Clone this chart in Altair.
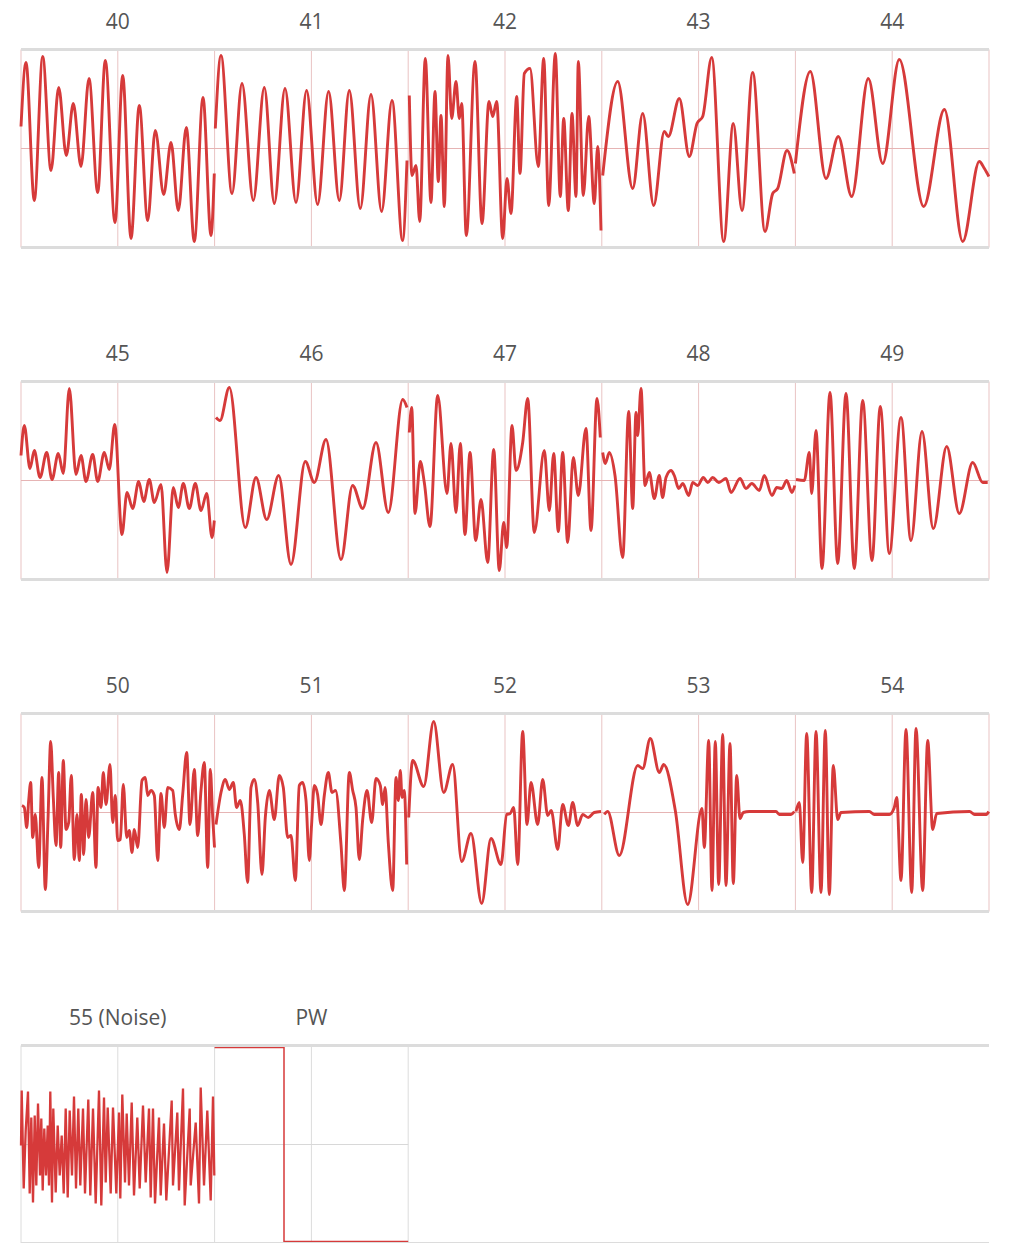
import altair as alt
import pandas as pd

# ---------------- data (panel-local x in px units 0..193.6, value -99..99) ----------------
TITLES = ["40", "41", "42", "43", "44", "45", "46", "47", "48", "49",
          "50", "51", "52", "53", "54", "55 (Noise)", "PW"]

W40 = [(0, 22), (5, 86), (13.3, -52), (21.7, 92), (30, -22), (37.7, 61), (45.3, -7), (52.3, 45),
       (60, -18), (68, 70), (76.7, -44), (84.3, 88), (94, -74), (101.7, 73), (110, -90), (118.3, 43),
       (126.7, -72), (134.3, 18), (142.7, -46), (150, 6), (157.3, -62), (165.3, 21), (173.3, -93),
       (182, 51), (190, -87), (193.3, -25)]
W41 = [(0.7, 20), (6.4, 93), (17.4, -45), (27.4, 65), (38.7, -52), (49.7, 61), (59.7, -55), (70.4, 60),
       (81.4, -54), (92, 58), (103, -56), (114, 57), (124.7, -52), (134.7, 58), (145.7, -60), (156.4, 54),
       (167, -63), (177.4, 48), (188, -92), (192.4, -12)]
W42 = [(1.1, 53), (3.8, -27), (7.8, -17), (11.5, -73), (17.1, 90), (22.8, -54), (26.8, 57), (30.1, -33),
       (32.8, 33), (36.1, -58), (39.8, 93), (43.5, 30), (47.8, 67), (51.1, 30), (53.5, 45), (58.1, -87),
       (66.8, 87), (73.8, -75), (80.8, 47), (84.5, 32), (88.5, 47), (94.5, -90), (98.8, -30), (102.8, -65),
       (108.5, 52), (111.8, -25), (116.1, 75), (121.8, 80), (130.1, -18), (135.5, 90), (140.5, -57),
       (147.1, 95), (152.1, -48), (155.5, 30), (160.1, -62), (163.8, 35), (167.8, -48), (170.1, 87),
       (175.1, -47), (180.5, 32), (186.1, -55), (189.5, 2), (192.8, -82)]
W43 = [(0.9, -27), (15.9, 67), (30.9, -40), (40.9, 35), (51.9, -57), (62.5, 17), (66.5, 12), (77.5, 50),
       (87.5, -8), (95.2, 25), (100.9, 32), (109.9, 91), (121.9, -93), (131.5, 25), (140.2, -62),
       (150.9, 76), (163.2, -83), (170.9, -45), (175.9, -40), (185.2, -2), (192.5, -25)]
W44 = [(0, -15), (14.9, 77), (30.6, -30), (42.9, 12), (56.3, -48), (72.9, 70), (87.3, -15), (103.9, 89),
       (128.3, -58), (149, 39), (167.3, -93), (183.9, -13), (189, -20), (193.5, -28)]
W45 = [(0, 25), (3.3, 55), (9, 12), (13.3, 30), (19, 3), (25.7, 28), (31, 1), (37.3, 27), (42.3, 7),
       (48.3, 92), (55, 6), (60, 25), (65, -1), (71.7, 26), (76.7, -1), (83.3, 28), (88.3, 11), (93.7, 56),
       (101, -54), (106, -12), (111.7, -28), (117.7, -1), (122.7, -21), (128.3, 1), (133.3, -22), (140, -4),
       (146, -92), (152.3, -7), (157.3, -27), (162.3, -3), (168.3, -28), (174.3, -3), (180, -30),
       (185.7, -13), (191, -57), (193.3, -40)]
W46 = [(1.4, 63), (5.4, 60), (14.7, 93), (30.7, -47), (41.4, 3), (52.1, -39), (64.1, 5), (76.4, -84),
       (90.7, 19), (99.7, -2), (111.4, 41), (126.4, -79), (138, -5), (148.1, -28), (161.4, 38),
       (173.7, -32), (188.1, 81), (192.4, 73)]
W47 = [(1.1, 48), (3.5, 73), (6.8, -33), (12.1, 19), (16.1, -2), (21.8, -46), (29.5, 85), (38.8, -13),
       (42.8, 37), (47.8, -32), (52.1, 37), (56.8, -54), (61.8, 28), (67.5, -60), (72.8, -19), (79.5, -82),
       (85.5, 31), (91.1, -90), (95.5, -42), (98.5, -67), (103.8, 55), (107.8, 10), (114.5, 38),
       (119.5, 82), (126.1, -52), (136.1, 30), (141.1, -30), (145.5, 27), (150.1, -51), (154.5, 28),
       (159.5, -62), (165.1, 23), (170.1, -15), (177.8, 52), (182.8, -50), (188.8, 82), (192.1, 43)]
W48 = [(0.9, 28), (3.5, 17), (7.5, 28), (13.2, 5), (20.9, -77), (26.9, 69), (30.9, -28), (34.2, 68),
       (35.9, 45), (39.2, 92), (43.2, -5), (47.5, 8), (52.5, -18), (57.5, 5), (60.8, -17), (64.2, 3),
       (69.2, 10), (72.5, 5), (76.9, -8), (81, -3), (86.9, -15), (90.9, -2), (95.9, -5), (101.5, 3),
       (106, -2), (110.9, 3), (117, -2), (124.2, 2), (129.2, -12), (138.2, 2), (144.2, -8), (150, -3),
       (157.5, -10), (162.5, 5), (170.2, -15), (175, -7), (180, -8), (184.9, 0), (190.2, -12), (193, -5)]
W49 = [(0.6, 1), (8.9, 0), (13.9, 28), (16.3, -13), (20.6, 50), (26.6, -88), (34.6, 88), (42.3, -83),
       (50.6, 87), (58.9, -88), (67.3, 80), (76.6, -80), (84.9, 74), (93.9, -73), (105.6, 63),
       (115.6, -60), (126.6, 49), (137.9, -48), (151.3, 34), (163.9, -33), (177.3, 18), (187.3, -2),
       (192.3, -2)]
W50 = [(1, 7), (3.3, 5), (5.7, -15), (7.7, 12), (9.7, 30), (11.7, -25), (14.3, -2), (17.7, -55), (21, 35),
       (24.3, -77), (27, -7), (29.7, 71), (32.3, 15), (35, -33), (37.7, 40), (39.7, -35), (42.3, 52),
       (45, -17), (47.7, -10), (50.3, 37), (53.3, -47), (56, -2), (58.3, -48), (60.3, 18), (62.7, -42),
       (65, 13), (67.7, -25), (71.7, 20), (75, -55), (77, 25), (80, 5), (82.3, 40), (85, 8), (89, 48),
       (91.7, -10), (94.3, 17), (96.7, -28), (99.3, -27), (102.3, 28), (105.7, -25), (108.3, -18),
       (111, -40), (113.3, -17), (116.7, -35), (121, 32), (124.3, 35), (126.7, 17), (130, 22),
       (133.3, 17), (136.7, -48), (140, 19), (143.3, -15), (146.7, 25), (151.7, 22), (154.3, -2),
       (158.3, -17), (161.7, 18), (165.7, 60), (169, -12), (173.3, 43), (176.7, -23), (180, 22),
       (183.3, 50), (186.7, -55), (189.3, 43), (191.7, -5), (193.5, -35)]
W51 = [(1.4, -12), (6.4, 20), (10.7, 33), (14.7, 23), (18.7, 30), (22, 5), (25.7, 12), (29.7, -22),
       (33, -70), (36.4, 25), (39.7, 33), (43.1, 10), (47.4, -62), (50.7, -5), (54.7, 22), (59.7, -7),
       (64.7, 37), (68.7, 25), (73.1, -25), (76.4, -23), (80.7, -68), (84.7, 27), (88, 30), (91.4, 12),
       (94.7, -48), (97, -12), (99.7, 27), (103, 18), (106.4, -12), (109.7, 17), (113.7, 40), (117.4, 20),
       (121, 22), (126.4, -32), (129.7, -78), (134.7, 40), (138.1, 22), (141.4, 5), (144.7, -47),
       (148.1, -7), (152.4, 22), (157.1, -10), (161.4, 34), (165.7, 27), (168.1, 8), (170.5, 25),
       (173.7, -30), (178.1, -78), (181.4, 35), (183.7, 12), (185.7, 42), (187.5, 15), (189.7, 22),
       (192.1, -52)]
W52 = [(0.5, -5), (4.5, 52), (15.5, 26), (25.5, 91), (35.5, 20), (44.5, 48), (53.5, -49), (62.8, -21),
       (73.5, -91), (82.8, -26), (92.8, -52), (98.5, -2), (102, -1), (105.5, 5), (109.5, -52), (114.5, 81),
       (118.8, -12), (122.8, 30), (129.5, -12), (134.5, 33), (139.5, -3), (143, 2), (149.5, -37),
       (154.5, 8), (160.2, -13), (164.5, 10), (169.5, -13), (174.5, -2), (180, -5), (186, 0), (192.8, 1)]
W53 = [(2.5, -2), (5.9, 1), (17.5, -43), (35.9, 47), (40.9, 44), (48.5, 74), (57.5, 40), (61.9, 48),
       (73.5, 2), (85.9, -92), (100.2, 4), (102.5, -35), (106.9, 72), (110.2, -78), (113.5, 71),
       (116.9, -72), (120.9, 78), (124.2, -73), (128.2, 69), (131.5, -71), (134.9, 37), (138.2, -6),
       (141.5, 0), (147.5, 1), (174.2, 1), (177.5, -2), (189.2, -2), (192.5, 1)]
W54 = [(0.6, 1), (3.9, 10), (7.3, -50), (11.3, 79), (16.3, -80), (20.6, 81), (25.6, -80), (29.9, 82),
       (33.9, -82), (37.9, 47), (42.3, -7), (45.6, 0), (73.9, 1), (78.9, -2), (93.9, -2), (98.9, 5),
       (101.3, 15), (105.6, -68), (110.6, 83), (116.3, -80), (120.6, 84), (127.3, -78), (132.3, 72),
       (137.3, -17), (141.3, -1), (174.2, 1), (179.2, -2), (190.9, -2), (193.3, 1)]
NOISE = [(0, -1), (0.7, 54), (2.7, -44), (4.7, 14), (7, 53), (8.7, -49), (10.3, 27), (12, -58), (13.7, 29),
         (15.3, -41), (17, 41), (19, -31), (20.3, 26), (21.7, -46), (23.3, 16), (25, -31), (26.7, 19),
         (28, -41), (29.3, 53), (31, -58), (32.3, 36), (34.7, -48), (36.7, 19), (38.7, -31), (40.7, 9),
         (42.7, -49), (44.7, 36), (46.7, -53), (48.7, 34), (51, -31), (53, 48), (55, -44), (57.3, 36),
         (59.3, -41), (62, 36), (64, -49), (67.3, 45), (69.3, -51), (72, 36), (74.7, -59), (78, 54),
         (80.3, -61), (83, 47), (84.7, -38), (86.7, 37), (89.7, -49), (92, 37), (95.3, -49), (98, 32),
         (99.3, -54), (101.3, 50), (104, -38), (105.7, 31), (108, -41), (110.7, 42), (113, -51),
         (116.3, 27), (118.7, -44), (122, 39), (124.7, -38), (128, 36), (129.7, -53), (132, 36),
         (134, -59), (138, 27), (139.7, -51), (143, 21), (145.3, -56), (150.7, 44), (152, -41),
         (156.3, 32), (158, -46), (162, 56), (163.7, -61), (168.7, 36), (169.7, -41), (174.7, 22),
         (178, -59), (179.7, 57), (183, -41), (186.3, 34), (189.7, -56), (192, 48), (193.3, -31)]
PW = [(0, 97), (69.4, 97), (69.4, -97), (193.6, -97)]

WAVES = [W40, W41, W42, W43, W44, W45, W46, W47, W48, W49, W50, W51, W52, W53, W54, NOISE, PW]
KIND = ["smooth"] * 15 + ["noise", "pw"]

# ---------------- layout / style ----------------
RED = "#d63a3a"
PANEL_W = 193.6
COLS = 5
ROW_W = PANEL_W * COLS
ROW_H = 198
YMAX = 99

x_scale = alt.Scale(domain=[0, ROW_W], nice=False, zero=False)
y_scale = alt.Scale(domain=[-YMAX, YMAX], nice=False, zero=False)


def X(field):
    return alt.X(field, type="quantitative", scale=x_scale, axis=None)


def Y(field):
    return alt.Y(field, type="quantitative", scale=y_scale, axis=None)


def make_row(r):
    idxs = list(range(r * COLS, min(r * COLS + COLS, len(TITLES))))
    last_row = r == 3
    grid_color = "#dcdcdc" if last_row else "#e9c3c3"
    mid_color = "#d8d8d8" if last_row else "#e6b4b4"

    recs = {"smooth": [], "noise": [], "pw": []}
    titles = []
    for k, i in enumerate(idxs):
        off = k * PANEL_W
        titles.append({"gx": off + PANEL_W / 2, "t": TITLES[i]})
        for (x, v) in WAVES[i]:
            recs[KIND[i]].append({"panel": TITLES[i], "gx": off + x, "v": v})

    grid = pd.DataFrame({"gx": [j * PANEL_W / 2 for j in range(2 * len(idxs) + 1)]})
    mid = pd.DataFrame({"a": [0], "b": [len(idxs) * PANEL_W], "v": [0]})
    border = pd.DataFrame({"v": [YMAX, -YMAX]})

    layers = [
        alt.Chart(grid).mark_rule(color=grid_color, strokeWidth=1).encode(x=X("gx")),
        alt.Chart(mid).mark_rule(color=mid_color, strokeWidth=1.2).encode(
            x=X("a"), x2="b", y=Y("v")),
    ]
    if recs["smooth"]:
        layers.append(
            alt.Chart(pd.DataFrame(recs["smooth"])).mark_line(
                color=RED, strokeWidth=2.9, interpolate="monotone").encode(
                x=X("gx"), y=Y("v"), detail="panel:N"))
    if recs["noise"]:
        layers.append(
            alt.Chart(pd.DataFrame(recs["noise"])).mark_line(
                color=RED, strokeWidth=2.3, interpolate="linear").encode(
                x=X("gx"), y=Y("v"), detail="panel:N"))
    if recs["pw"]:
        layers.append(
            alt.Chart(pd.DataFrame(recs["pw"])).mark_line(
                color=RED, strokeWidth=1.5, interpolate="linear").encode(
                x=X("gx"), y=Y("v"), detail="panel:N"))
    layers.append(
        alt.Chart(border).mark_rule(color="#dcdcdc", strokeWidth=3).encode(y=Y("v")))
    layers.append(
        alt.Chart(pd.DataFrame(titles)).mark_text(
            baseline="top", fontSize=21, font="Open Sans", color="#555555").encode(
            x=X("gx"), y=alt.value(-37.1), text="t:N"))
    return alt.layer(*layers).properties(width=ROW_W, height=ROW_H)


rows = [make_row(r) for r in range(4)]
chart = alt.vconcat(*rows, spacing=134, bounds="flush").properties(
    padding={"left": 7, "top": 3.5, "right": 5, "bottom": 5}
).configure_view(stroke=None)

chart.save("out.html", embed_options={"renderer": "svg", "actions": False})
